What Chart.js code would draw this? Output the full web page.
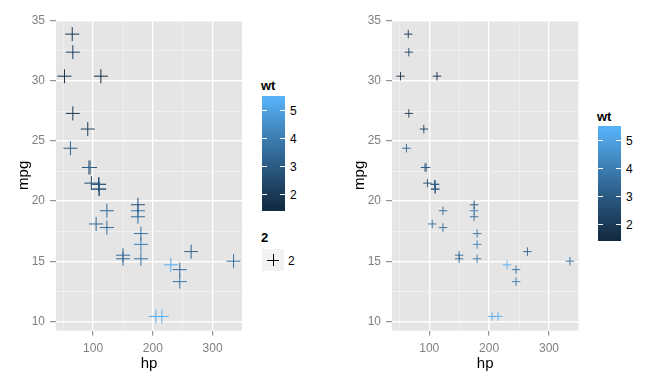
<!DOCTYPE html>
<html>
<head>
<meta charset="utf-8">
<script src="https://cdn.jsdelivr.net/npm/chart.js@4"></script>
<style>
  body { margin: 0; background: #fff; width: 672px; height: 384px; position: relative; overflow: hidden;
         font-family: "Liberation Sans", Arial, sans-serif; }
  canvas { position: absolute; top: 0; }
  .lg { position: absolute; }
  .txt { position: absolute; font-size: 12px; line-height: 14px; color: #000; white-space: nowrap; transform: translateY(-50%); }
  .ttl { font-weight: bold; font-size: 13px; }
</style>
</head>
<body>
<canvas id="left" width="250" height="384" style="left:0px"></canvas>
<canvas id="right" width="250" height="384" style="left:336px"></canvas>
<div id="legends"></div>
<script>
// mtcars: horsepower, miles per gallon, weight
const hp  = [110, 110, 93, 110, 175, 105, 245, 62, 95, 123, 123, 180, 180, 180, 205, 215,
             230, 66, 52, 65, 97, 150, 150, 245, 175, 66, 91, 113, 264, 175, 335, 109];
const mpg = [21.0, 21.0, 22.8, 21.4, 18.7, 18.1, 14.3, 24.4, 22.8, 19.2, 17.8, 16.4, 17.3, 15.2, 10.4, 10.4,
             14.7, 32.4, 30.4, 33.9, 21.5, 15.5, 15.2, 13.3, 19.2, 27.3, 26.0, 30.4, 15.8, 19.7, 15.0, 21.4];
const wt  = [2.620, 2.875, 2.320, 3.215, 3.440, 3.460, 3.570, 3.190, 3.150, 3.440, 3.440, 4.070, 3.730, 3.780, 5.250, 5.424,
             5.345, 2.200, 1.615, 1.835, 2.465, 3.520, 3.435, 3.840, 3.845, 1.935, 2.140, 1.513, 3.170, 2.770, 3.570, 2.780];

const xMajor = [100, 200, 300];
const xMinor = [50, 150, 250];
const yMajor = [10, 15, 20, 25, 30, 35];
const yMinor = [12.5, 17.5, 22.5, 27.5, 32.5];
const wtBreaks = [2, 3, 4, 5];

const LOW = '#132B43', HIGH = '#56B1F7';
const FONT = '"Liberation Sans", Arial, sans-serif';

// colour ramp in Lab space, like ggplot's default gradient
function toLab(hex) {
    const c = [1, 3, 5].map(i => parseInt(hex.substr(i, 2), 16) / 255)
        .map(v => v <= 0.04045 ? v / 12.92 : Math.pow((v + 0.055) / 1.055, 2.4));
    const X = (0.4124564 * c[0] + 0.3575761 * c[1] + 0.1804375 * c[2]) / 0.95047;
    const Y = 0.2126729 * c[0] + 0.7151522 * c[1] + 0.0721750 * c[2];
    const Z = (0.0193339 * c[0] + 0.1191920 * c[1] + 0.9503041 * c[2]) / 1.08883;
    const f = t => t > 0.008856 ? Math.cbrt(t) : 7.787 * t + 16 / 116;
    return [116 * f(Y) - 16, 500 * (f(X) - f(Y)), 200 * (f(Y) - f(Z))];
}
function fromLab(L, a, b) {
    const fy = (L + 16) / 116, fx = fy + a / 500, fz = fy - b / 200;
    const g = t => t > 0.206893 ? t * t * t : (t - 16 / 116) / 7.787;
    const X = g(fx) * 0.95047, Y = g(fy), Z = g(fz) * 1.08883;
    const lin = [
        3.2404542 * X - 1.5371385 * Y - 0.4985314 * Z,
        -0.9692660 * X + 1.8760108 * Y + 0.0415560 * Z,
        0.0556434 * X - 0.2040259 * Y + 1.0572252 * Z
    ];
    const s = lin.map(v => {
        v = Math.min(1, Math.max(0, v));
        v = v <= 0.0031308 ? 12.92 * v : 1.055 * Math.pow(v, 1 / 2.4) - 0.055;
        return Math.round(v * 255);
    });
    return `rgb(${s[0]},${s[1]},${s[2]})`;
}
const labLow = toLab(LOW), labHigh = toLab(HIGH);
const wtMin = Math.min(...wt), wtMax = Math.max(...wt);
function wtColour(v) {
    const t = (v - wtMin) / (wtMax - wtMin);
    return fromLab(...labLow.map((l, i) => l + (labHigh[i] - l) * t));
}

function expand(arr) {
    const lo = Math.min(...arr), hi = Math.max(...arr), pad = (hi - lo) * 0.05;
    return [lo - pad, hi + pad];
}
const [xMin, xMax] = expand(hp);
const [yMin, yMax] = expand(mpg);

const panelBg = {
    id: 'panelBg',
    beforeDraw(chart) {
        const { ctx, chartArea: a } = chart;
        ctx.save();
        ctx.fillStyle = '#E5E5E5';
        ctx.fillRect(a.left, a.top, a.right - a.left, a.bottom - a.top);
        ctx.restore();
    }
};

function axis(major, minor, lo, hi, title, isX) {
    const isMajor = c => c.tick && major.includes(c.tick.value);
    return {
        type: 'linear',
        min: lo,
        max: hi,
        afterBuildTicks: s => { s.ticks = major.concat(minor).sort((a, b) => a - b).map(v => ({ value: v })); },
        afterFit: s => { if (isX) s.height = 53.4; else s.width = 56; },
        border: { display: false },
        grid: {
            color: c => isMajor(c) ? '#FFFFFF' : '#F2F2F2',
            lineWidth: c => isMajor(c) ? 1.4 : 0.8,
            tickColor: c => isMajor(c) ? '#7F7F7F' : 'rgba(0,0,0,0)',
            tickLength: isX ? 5 : 6,
            tickWidth: 1
        },
        ticks: {
            autoSkip: false,
            maxRotation: 0,
            color: '#7F7F7F',
            padding: isX ? 6 : 5,
            font: { family: FONT, size: 12 },
            callback: v => major.includes(v) ? String(v) : ''
        },
        title: {
            display: true,
            text: title,
            color: '#000',
            font: { family: FONT, size: 15 },
            padding: isX ? { top: 0, bottom: 11 } : { top: 15, bottom: 0 }
        }
    };
}

function makePanel(id, radius, lineWidth) {
    const colours = wt.map(wtColour);
    new Chart(document.getElementById(id), {
        type: 'scatter',
        data: {
            datasets: [{
                data: hp.map((h, i) => ({ x: h, y: mpg[i] })),
                pointStyle: 'cross',
                pointRadius: radius,
                borderWidth: lineWidth,
                borderColor: colours,
                backgroundColor: colours
            }]
        },
        options: {
            responsive: false,
            animation: false,
            events: [],
            layout: { padding: { top: 20, right: 7.6, left: 0, bottom: 0 } },
            plugins: { legend: { display: false }, tooltip: { enabled: false } },
            scales: {
                x: axis(xMajor, xMinor, xMin, xMax, 'hp', true),
                y: axis(yMajor, yMinor, yMin, yMax, 'mpg', false)
            }
        },
        plugins: [panelBg]
    });
}

makePanel('left', 7, 1);
makePanel('right', 4.25, 0.9);

// legends
const holder = document.getElementById('legends');
function el(cls, css, text) {
    const d = document.createElement('div');
    d.className = cls;
    d.style.cssText = css;
    if (text !== undefined) d.textContent = text;
    holder.appendChild(d);
    return d;
}

function colourbar(left, top, height, titleY) {
    const w = 23;
    el('txt ttl', `left:${left - 1}px;top:${titleY}px`, 'wt');
    const stops = [];
    for (let i = 0; i <= 20; i++) {
        const t = i / 20;
        const v = wtMax - t * (wtMax - wtMin);
        stops.push(`${wtColour(v)} ${(2.5 + 95 * t).toFixed(2)}%`);
    }
    el('lg', `left:${left}px;top:${top}px;width:${w}px;height:${height}px;` +
        `background:linear-gradient(to bottom, ${wtColour(wtMax)} 0%, ${stops.join(',')}, ${wtColour(wtMin)} 100%)`);
    wtBreaks.forEach(b => {
        const t = (b - wtMin) / (wtMax - wtMin);
        const y = top + height - height * (0.025 + 0.95 * t);
        el('lg', `left:${left}px;top:${y - 0.5}px;width:4.6px;height:1px;background:#fff`);
        el('lg', `left:${left + w - 4.6}px;top:${y - 0.5}px;width:4.6px;height:1px;background:#fff`);
        el('txt', `left:${left + w + 5}px;top:${y}px`, String(b));
    });
}

colourbar(262, 96, 115, 86);
colourbar(598, 126, 115, 117);

// size legend on the left panel
el('txt ttl', `left:261px;top:238px`, '2');
el('lg', 'left:262px;top:249px;width:22px;height:22px;background:#F2F2F2');
el('lg', 'left:267px;top:260px;width:12px;height:1px;background:#000');
el('lg', 'left:273px;top:254px;width:1px;height:12px;background:#000');
el('txt', 'left:288px;top:260.5px', '2');
</script>
</body>
</html>
